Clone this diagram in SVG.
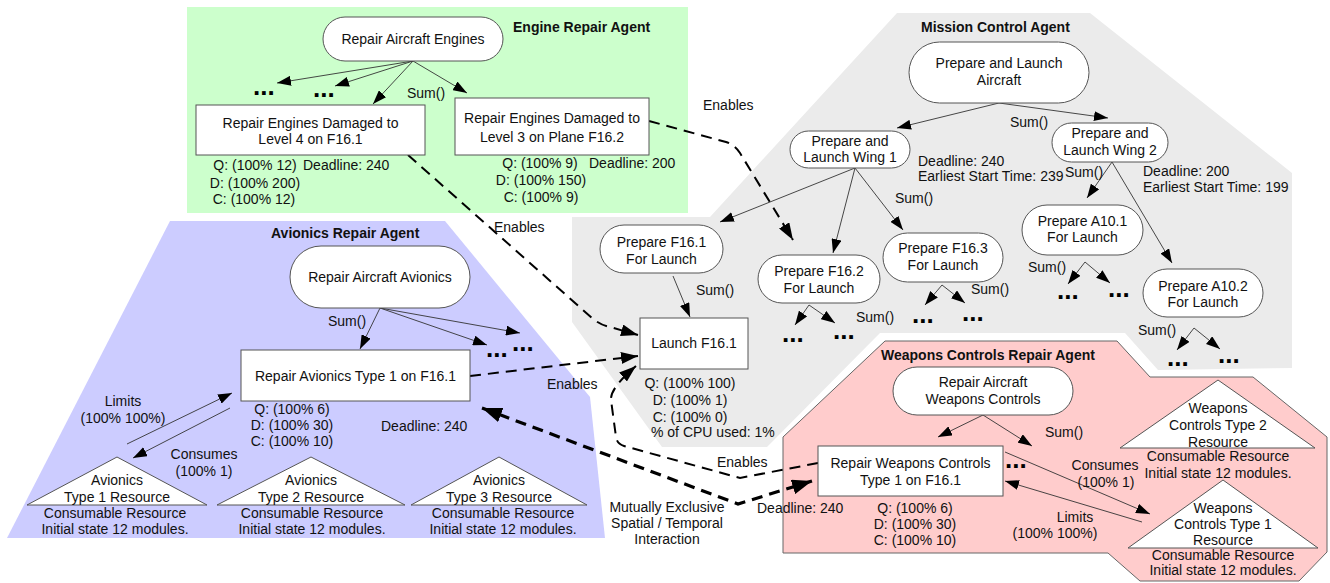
<svg xmlns="http://www.w3.org/2000/svg" width="1330" height="583" viewBox="0 0 1330 583">
<style>
text{font-family:"Liberation Sans",Arial,sans-serif;font-size:14px;fill:#111}
.t{font-weight:bold}
.m{text-anchor:middle}
.dots{font-weight:bold;font-size:26px;fill:#000}
.node{fill:#fff;stroke:#555;stroke-width:1}
.ln{fill:none;stroke:#333;stroke-width:0.9}
.dash{fill:none;stroke:#000;stroke-width:2;stroke-dasharray:11 7}
.thick{fill:none;stroke:#000;stroke-width:3.2;stroke-dasharray:11 7}
</style>
<defs>
<marker id="ah" viewBox="0 0 14 10" refX="14" refY="5" markerWidth="14" markerHeight="10" markerUnits="userSpaceOnUse" orient="auto"><path d="M0,0L14,5L0,10z" fill="#000"/></marker>
<marker id="ad" viewBox="0 0 17 12" refX="17" refY="6" markerWidth="17" markerHeight="12" markerUnits="userSpaceOnUse" orient="auto"><path d="M0,0L17,6L0,12z" fill="#000"/></marker>
<marker id="at" viewBox="0 0 20 15" refX="20" refY="7.5" markerWidth="20" markerHeight="15" markerUnits="userSpaceOnUse" orient="auto-start-reverse"><path d="M0,0L20,7.5L0,15z" fill="#000"/></marker>
</defs>

<g id="agents">
<rect x="187" y="7" width="501" height="206" fill="#ccffcc"/>
<polygon points="897,13 1090,13 1292,173 1292,368 1158,370 1125,333 880,333 767,447 662,447 572,322 572,217 710,217" fill="#ebebeb"/>
<polygon points="170,221 445,221 590,397 605,538 7,538" fill="#ccccff"/>
<polygon points="783,437 885,341 1117,341 1150,377 1253,377 1327,437 1327,552 1299,581 1140,581 1108,553 783,553" fill="#ffcccc" stroke="#666" stroke-width="1"/>
<text class="t" x="513" y="32">Engine Repair Agent</text>
<text class="t" x="921" y="32">Mission Control Agent</text>
<text class="t" x="271" y="238">Avionics Repair Agent</text>
<text class="t" x="881" y="360">Weapons Controls Repair Agent</text>
</g>

<g id="connectors">
<!-- engine -->
<line class="ln" x1="413" y1="61" x2="277" y2="83" marker-end="url(#ah)"/>
<line class="ln" x1="413" y1="61" x2="335" y2="86" marker-end="url(#ah)"/>
<line class="ln" x1="413" y1="61" x2="373" y2="104" marker-end="url(#ah)"/>
<line class="ln" x1="413" y1="61" x2="467" y2="93" marker-end="url(#ah)"/>
<text x="407" y="98">Sum()</text>
<text class="dots" x="253" y="95">...</text>
<text class="dots" x="313" y="97">...</text>
<!-- mission -->
<line class="ln" x1="999" y1="103" x2="897" y2="128" marker-end="url(#ah)"/>
<line class="ln" x1="999" y1="103" x2="1108" y2="118" marker-end="url(#ah)"/>
<text x="1010" y="127">Sum()</text>
<line class="ln" x1="855" y1="168" x2="720" y2="222" marker-end="url(#ah)"/>
<line class="ln" x1="855" y1="168" x2="833" y2="253" marker-end="url(#ah)"/>
<line class="ln" x1="855" y1="168" x2="903" y2="230" marker-end="url(#ah)"/>
<text x="895" y="203">Sum()</text>
<line class="ln" x1="1112" y1="162" x2="1087" y2="198" marker-end="url(#ah)"/>
<line class="ln" x1="1112" y1="162" x2="1172" y2="263" marker-end="url(#ah)"/>
<text x="1065" y="177">Sum()</text>
<line class="ln" x1="673" y1="276" x2="690" y2="317" marker-end="url(#ah)"/>
<text x="696" y="295">Sum()</text>
<line class="ln" x1="809" y1="305" x2="795" y2="325" marker-end="url(#ah)"/>
<line class="ln" x1="809" y1="305" x2="835" y2="323" marker-end="url(#ah)"/>
<text x="856" y="322">Sum()</text>
<text class="dots" x="782" y="342">...</text>
<text class="dots" x="833" y="339">...</text>
<line class="ln" x1="942" y1="285" x2="925" y2="305" marker-end="url(#ah)"/>
<line class="ln" x1="942" y1="285" x2="965" y2="303" marker-end="url(#ah)"/>
<text x="971" y="294">Sum()</text>
<text class="dots" x="912" y="323">...</text>
<text class="dots" x="962" y="321">...</text>
<line class="ln" x1="1085" y1="262" x2="1068" y2="284" marker-end="url(#ah)"/>
<line class="ln" x1="1085" y1="262" x2="1110" y2="283" marker-end="url(#ah)"/>
<text x="1028" y="272">Sum()</text>
<text class="dots" x="1057" y="299">...</text>
<text class="dots" x="1108" y="297">...</text>
<line class="ln" x1="1194" y1="328" x2="1177" y2="350" marker-end="url(#ah)"/>
<line class="ln" x1="1194" y1="328" x2="1220" y2="349" marker-end="url(#ah)"/>
<text x="1138" y="335">Sum()</text>
<text class="dots" x="1167" y="366">...</text>
<text class="dots" x="1218" y="363">...</text>
<!-- avionics -->
<line class="ln" x1="380" y1="308" x2="360" y2="349" marker-end="url(#ah)"/>
<line class="ln" x1="380" y1="308" x2="487" y2="345" marker-end="url(#ah)"/>
<line class="ln" x1="380" y1="308" x2="520" y2="333" marker-end="url(#ah)"/>
<text x="328" y="326">Sum()</text>
<text class="dots" x="486" y="357">...</text>
<text class="dots" x="512" y="351">...</text>
<line class="ln" x1="127" y1="444" x2="232" y2="393" marker-end="url(#ah)"/>
<line class="ln" x1="230" y1="408" x2="133" y2="458" marker-end="url(#ah)"/>
<text class="m" x="123" y="406">Limits</text>
<text class="m" x="123" y="423">(100% 100%)</text>
<text class="m" x="204" y="459">Consumes</text>
<text class="m" x="204" y="476">(100% 1)</text>
<!-- weapons -->
<line class="ln" x1="983" y1="415" x2="938" y2="437" marker-end="url(#ah)"/>
<line class="ln" x1="983" y1="415" x2="1032" y2="446" marker-end="url(#ah)"/>
<text x="1045" y="437">Sum()</text>
<text class="dots" x="1005" y="468">...</text>
<line class="ln" x1="1005" y1="452" x2="1150" y2="514" marker-end="url(#ah)"/>
<line class="ln" x1="1142" y1="522" x2="1005" y2="481" marker-end="url(#ah)"/>
<text class="m" x="1105" y="470">Consumes</text>
<text class="m" x="1106" y="487">(100% 1)</text>
<text class="m" x="1075" y="522">Limits</text>
<text class="m" x="1055" y="538">(100% 100%)</text>
<!-- enables -->
<path class="dash" d="M649,121L726,142Q735,145 740,153L793,240" marker-end="url(#ad)"/>
<text x="703" y="110">Enables</text>
<path class="dash" d="M408,155L592,318Q600,325 610,327L638,335" marker-end="url(#ad)"/>
<text x="494" y="232">Enables</text>
<path class="dash" d="M470,376L638,356" marker-end="url(#ad)"/>
<text x="547" y="389">Enables</text>
<path class="dash" d="M818,463L740,478L624,446Q617,444 616,437L611,400Q610,388 636,366" marker-end="url(#ad)"/>
<text x="717" y="467">Enables</text>
<path class="thick" d="M482,408L738,504L812,481" marker-start="url(#at)" marker-end="url(#at)"/>
<text class="m" x="667" y="512">Mutually Exclusive</text>
<text class="m" x="667" y="528">Spatial / Temporal</text>
<text class="m" x="667" y="544">Interaction</text>
</g>

<g id="repair-aircraft-engines">
<rect class="node" x="323" y="17" width="180" height="44" rx="22"/>
<text class="m" x="413" y="44">Repair Aircraft Engines</text>
</g>
<g id="repair-engines-level4">
<rect class="node" x="196" y="105" width="229" height="50"/>
<text class="m" x="310.5" y="128">Repair Engines Damaged to</text>
<text class="m" x="310.5" y="144">Level 4 on F16.1</text>
<text class="m" x="255" y="170">Q: (100% 12)</text>
<text x="303" y="170">Deadline: 240</text>
<text class="m" x="255" y="188">D: (100% 200)</text>
<text class="m" x="254" y="204">C: (100% 12)</text>
</g>
<g id="repair-engines-level3">
<rect class="node" x="455" y="98" width="194" height="57"/>
<text class="m" x="552" y="123">Repair Engines Damaged to</text>
<text class="m" x="552" y="142">Level 3 on Plane F16.2</text>
<text class="m" x="540" y="168">Q: (100% 9)</text>
<text x="589" y="168">Deadline: 200</text>
<text class="m" x="541" y="185">D: (100% 150)</text>
<text class="m" x="541" y="202">C: (100% 9)</text>
</g>

<g id="prepare-launch-aircraft">
<rect class="node" x="909" y="42" width="180" height="61" rx="30.5"/>
<text class="m" x="999" y="68">Prepare and Launch</text>
<text class="m" x="999" y="85">Aircraft</text>
</g>
<g id="launch-wing-1">
<rect class="node" x="790" y="131" width="120" height="37" rx="18.5"/>
<text class="m" x="850" y="146">Prepare and</text>
<text class="m" x="850" y="162">Launch Wing 1</text>
<text x="918" y="166">Deadline: 240</text>
<text x="918" y="181">Earliest Start Time: 239</text>
</g>
<g id="launch-wing-2">
<rect class="node" x="1052" y="123" width="116" height="39" rx="19.5"/>
<text class="m" x="1110" y="138">Prepare and</text>
<text class="m" x="1110" y="155">Launch Wing 2</text>
<text x="1143" y="176">Deadline: 200</text>
<text x="1143" y="192">Earliest Start Time: 199</text>
</g>
<g id="prepare-f16-1">
<rect class="node" x="600" y="225" width="123" height="48" rx="24"/>
<text class="m" x="661.5" y="247">Prepare F16.1</text>
<text class="m" x="661.5" y="264">For Launch</text>
</g>
<g id="prepare-f16-2">
<rect class="node" x="758" y="255" width="122" height="48" rx="24"/>
<text class="m" x="819" y="276">Prepare F16.2</text>
<text class="m" x="819" y="293">For Launch</text>
</g>
<g id="prepare-f16-3">
<rect class="node" x="883" y="233" width="120" height="49" rx="24.5"/>
<text class="m" x="943" y="253">Prepare F16.3</text>
<text class="m" x="943" y="270">For Launch</text>
</g>
<g id="prepare-a10-1">
<rect class="node" x="1022" y="205" width="121" height="50" rx="25"/>
<text class="m" x="1082.5" y="226">Prepare A10.1</text>
<text class="m" x="1082.5" y="242">For Launch</text>
</g>
<g id="prepare-a10-2">
<rect class="node" x="1143" y="269" width="120" height="48" rx="24"/>
<text class="m" x="1203" y="291">Prepare A10.2</text>
<text class="m" x="1203" y="307">For Launch</text>
</g>
<g id="launch-f16-1">
<rect class="node" x="640" y="318" width="108" height="51"/>
<text class="m" x="694" y="348">Launch F16.1</text>
<text class="m" x="690" y="388">Q: (100% 100)</text>
<text class="m" x="690" y="405">D: (100% 1)</text>
<text class="m" x="690" y="422">C: (100% 0)</text>
<text x="651" y="437">% of CPU used: 1%</text>
</g>

<g id="repair-aircraft-avionics">
<rect class="node" x="290" y="246" width="180" height="62" rx="31"/>
<text class="m" x="380" y="282">Repair Aircraft Avionics</text>
</g>
<g id="repair-avionics-type1">
<rect class="node" x="241" y="350" width="229" height="51"/>
<text class="m" x="355.5" y="381">Repair Avionics Type 1 on F16.1</text>
<text class="m" x="292" y="414">Q: (100% 6)</text>
<text class="m" x="292" y="430">D: (100% 30)</text>
<text class="m" x="292" y="446">C: (100% 10)</text>
<text x="381" y="431">Deadline: 240</text>
</g>
<g id="avionics-type1-resource">
<polygon class="node" points="117,457 27,505 207,505"/>
<text class="m" x="117" y="485">Avionics</text>
<text class="m" x="117" y="502">Type 1 Resource</text>
<text class="m" x="115" y="518">Consumable Resource</text>
<text class="m" x="115" y="534">Initial state 12 modules.</text>
</g>
<g id="avionics-type2-resource">
<polygon class="node" points="311,457 217,505 405,505"/>
<text class="m" x="311" y="485">Avionics</text>
<text class="m" x="311" y="502">Type 2 Resource</text>
<text class="m" x="312" y="518">Consumable Resource</text>
<text class="m" x="312" y="534">Initial state 12 modules.</text>
</g>
<g id="avionics-type3-resource">
<polygon class="node" points="499,457 411,505 587,505"/>
<text class="m" x="499" y="485">Avionics</text>
<text class="m" x="499" y="502">Type 3 Resource</text>
<text class="m" x="503" y="518">Consumable Resource</text>
<text class="m" x="503" y="534">Initial state 12 modules.</text>
</g>

<g id="repair-aircraft-weapons">
<rect class="node" x="893" y="367" width="180" height="48" rx="24"/>
<text class="m" x="983" y="387">Repair Aircraft</text>
<text class="m" x="983" y="404">Weapons Controls</text>
</g>
<g id="repair-weapons-type1">
<rect class="node" x="818" y="446" width="185" height="50"/>
<text class="m" x="910.5" y="468">Repair Weapons Controls</text>
<text class="m" x="910.5" y="485">Type 1 on F16.1</text>
<text class="m" x="915" y="513">Q: (100% 6)</text>
<text class="m" x="915" y="529">D: (100% 30)</text>
<text class="m" x="915" y="545">C: (100% 10)</text>
<text x="757" y="513">Deadline: 240</text>
</g>
<g id="weapons-type2-resource">
<polygon class="node" points="1218,380 1120,448 1315,448"/>
<text class="m" x="1218" y="413">Weapons</text>
<text class="m" x="1218" y="430">Controls Type 2</text>
<text class="m" x="1218" y="447">Resource</text>
<text class="m" x="1218" y="461">Consumable Resource</text>
<text class="m" x="1218" y="478">Initial state 12 modules.</text>
</g>
<g id="weapons-type1-resource">
<polygon class="node" points="1223,480 1128,548 1318,548"/>
<text class="m" x="1223" y="513">Weapons</text>
<text class="m" x="1223" y="529">Controls Type 1</text>
<text class="m" x="1223" y="545">Resource</text>
<text class="m" x="1223" y="560">Consumable Resource</text>
<text class="m" x="1223" y="575">Initial state 12 modules.</text>
</g>
</svg>
